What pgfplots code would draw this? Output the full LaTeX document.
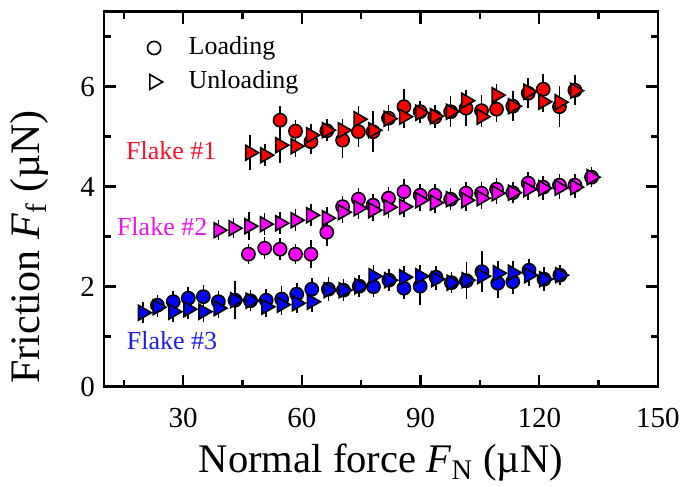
\documentclass[border=0pt]{standalone}
\usepackage{fontspec}
\setmainfont{Liberation Serif}
\usepackage{pgfplots}
\usepackage{pgfplotstable}
\pgfplotsset{compat=1.18}
\definecolor{fred}{RGB}{255,0,0}
\definecolor{fmag}{RGB}{255,0,255}
\definecolor{fblu}{RGB}{0,0,255}
\definecolor{tred}{RGB}{245,20,40}
\definecolor{tmag}{RGB}{235,20,235}
\definecolor{tblu}{RGB}{30,30,235}

% Flake #1 (red)
\pgfplotstableread{
x y e
54.5 5.33 0.17
58.4 5.11 0.12
62.3 4.90 0.15
66.3 5.12 0.11
70.3 4.93 0.25
74.3 5.10 0.20
78.0 5.10 0.30
81.9 5.37 0.15
85.8 5.60 0.25
89.9 5.50 0.11
93.6 5.39 0.11
97.6 5.50 0.20
101.5 5.57 0.25
105.4 5.52 0.20
109.2 5.55 0.15
113.3 5.61 0.20
117.2 5.87 0.20
121.0 5.95 0.20
125.1 5.60 0.30
129.0 5.93 0.20
}\redL
\pgfplotstableread{
x y e
46.9 4.68 0.25
50.7 4.63 0.11
54.5 4.83 0.25
58.4 4.81 0.11
62.3 5.03 0.11
66.3 5.13 0.11
70.3 5.13 0.11
74.3 5.35 0.15
78.0 5.13 0.11
81.9 5.36 0.11
85.8 5.40 0.13
89.9 5.48 0.11
93.6 5.41 0.11
97.6 5.50 0.11
101.5 5.72 0.11
105.4 5.40 0.11
109.2 5.83 0.12
113.3 5.61 0.11
117.2 5.90 0.11
121.0 5.70 0.11
125.1 5.69 0.11
129.0 5.92 0.11
}\redU

% Flake #2 (magenta)
\pgfplotstableread{
x y e
46.5 2.65 0.10
50.6 2.77 0.11
54.5 2.75 0.11
58.4 2.65 0.10
62.3 2.65 0.18
66.3 3.09 0.17
70.3 3.60 0.11
74.3 3.75 0.12
78.0 3.63 0.11
81.9 3.77 0.11
85.8 3.90 0.15
89.9 3.83 0.11
93.6 3.83 0.11
97.6 3.75 0.11
101.5 3.87 0.11
105.4 3.87 0.11
109.2 3.95 0.11
113.3 3.88 0.11
117.2 4.07 0.11
121.0 3.99 0.12
125.1 4.03 0.12
129.0 4.03 0.12
133.2 4.19 0.10
}\magL
\pgfplotstableread{
x y e
38.9 3.13 0.10
42.7 3.17 0.10
46.7 3.21 0.17
50.6 3.25 0.11
54.5 3.27 0.11
58.4 3.33 0.11
62.3 3.43 0.11
66.3 3.37 0.11
70.3 3.49 0.11
74.3 3.57 0.11
78.0 3.53 0.11
81.9 3.59 0.11
85.8 3.60 0.11
89.9 3.73 0.11
93.6 3.68 0.11
97.6 3.75 0.11
101.5 3.73 0.11
105.4 3.77 0.11
109.2 3.87 0.11
113.3 3.88 0.11
117.2 3.95 0.11
121.0 3.97 0.13
125.1 3.98 0.13
129.0 3.99 0.12
133.2 4.19 0.10
}\magU

% Flake #3 (blue)
\pgfplotstableread{
x y e
23.5 1.63 0.10
27.5 1.70 0.10
31.3 1.77 0.11
35.1 1.80 0.12
38.9 1.70 0.11
43.1 1.73 0.27
47.0 1.72 0.11
51.0 1.73 0.11
54.9 1.75 0.15
58.7 1.85 0.11
62.5 1.95 0.11
66.7 1.95 0.13
70.5 1.93 0.11
74.5 2.01 0.11
78.1 2.00 0.11
82.0 2.13 0.12
85.8 1.97 0.12
89.9 2.01 0.28
93.9 2.19 0.12
97.8 2.08 0.11
101.6 2.12 0.27
105.5 2.30 0.30
109.5 2.07 0.20
113.3 2.10 0.15
117.4 2.33 0.11
121.2 2.15 0.13
125.2 2.23 0.10
}\bluL
\pgfplotstableread{
x y e
19.8 1.48 0.10
23.5 1.59 0.10
27.5 1.50 0.10
31.3 1.55 0.10
35.1 1.50 0.11
38.9 1.57 0.10
43.1 1.73 0.11
47.0 1.72 0.10
51.0 1.60 0.10
54.9 1.64 0.11
58.7 1.67 0.10
62.5 1.70 0.10
66.7 1.93 0.11
70.5 1.93 0.10
74.5 2.01 0.12
78.1 2.21 0.12
82.0 2.13 0.11
85.8 2.19 0.12
89.9 2.21 0.12
93.9 2.15 0.12
97.8 2.08 0.11
101.6 2.13 0.11
105.5 2.21 0.12
109.5 2.27 0.13
113.3 2.28 0.12
117.4 2.23 0.11
121.2 2.15 0.11
125.2 2.23 0.10
}\bluU

\pgfplotsset{
  lo/.style={only marks, mark=*, mark size=3.3pt, draw=black, fill=#1,
    line width=0.8pt, forget plot},
  un/.style={only marks, mark=triangle*, mark size=4.3pt, draw=black, fill=#1,
    line width=0.8pt, mark options={rotate=-90}, forget plot},
  eb/.style={draw=none, no markers, forget plot,
    error bars/.cd, y dir=both, y explicit,
    error bar style={draw=black, line width=0.8pt},
    error mark options={draw=black, mark size=2.6pt, line width=0.8pt}},
}

\begin{document}
\begin{tikzpicture}
\begin{axis}[
  name=ax,
  scale only axis,
  width=277pt, height=187.5pt,
  xmin=10, xmax=150, ymin=0, ymax=7.5,
  xtick={30,60,90,120,150}, minor xtick={15,45,75,105,135},
  ytick={0,2,4,6}, minor ytick={1,3,5,7},
  tick align=inside,
  major tick length=6pt, minor tick length=3.5pt,
  every tick/.style={black, line width=1.2pt},
  axis line style={line width=1.2pt},
  /pgf/number format/assume math mode=true,
  tick label style={font=\fontsize{14.5}{14.5}\selectfont},
  xticklabel style={yshift=-7pt},
  yticklabel style={xshift=-1pt},
  xlabel={Normal force \textit{F}\textsubscript{N} (µN)},
  ylabel={Friction \textit{F}\textsubscript{f} (µN)},
  xlabel style={font=\fontsize{20.3}{20.3}\selectfont,
    at={(axis description cs:0.5,-0.203)}, anchor=center},
  ylabel style={font=\fontsize{21}{21}\selectfont,
    at={(axis description cs:-0.134,0.373)}, anchor=center},
  legend style={at={(axis description cs:0.067,0.955)}, anchor=north west,
    draw=none, fill=none, font=\fontsize{13}{13}\selectfont,
    nodes={inner sep=1pt, text height=10pt, text depth=3pt}, row sep=2pt,
    /tikz/every odd column/.append style={column sep=12pt}},
  legend cell align=left,
]
\addlegendimage{only marks, mark=o, mark size=3.3pt, mark options={black, line width=0.8pt}}
\addlegendentry{Loading}
\addlegendimage{only marks, mark=triangle, mark size=4.3pt, mark options={black, line width=0.8pt, rotate=-90}}
\addlegendentry{Unloading}

\addplot[lo=fred] table[x=x,y=y] {\redL};
\addplot[un=fred] table[x=x,y=y] {\redU};
\addplot[eb] table[x=x,y=y,y error=e] {\redL};
\addplot[eb] table[x=x,y=y,y error=e] {\redU};

\addplot[lo=fmag] table[x=x,y=y] {\magL};
\addplot[un=fmag] table[x=x,y=y] {\magU};
\addplot[eb] table[x=x,y=y,y error=e] {\magL};
\addplot[eb] table[x=x,y=y,y error=e] {\magU};

\addplot[lo=fblu] table[x=x,y=y] {\bluL};
\addplot[un=fblu] table[x=x,y=y] {\bluU};
\addplot[eb] table[x=x,y=y,y error=e] {\bluL};
\addplot[eb] table[x=x,y=y,y error=e] {\bluU};

\node[tred, font=\fontsize{13}{13}\selectfont] at (axis cs:27,4.73) {Flake \#1};
\node[tmag, font=\fontsize{13}{13}\selectfont] at (axis cs:24.7,3.2) {Flake \#2};
\node[tblu, font=\fontsize{13}{13}\selectfont] at (axis cs:27.2,0.93) {Flake \#3};
\end{axis}
\pgfresetboundingbox
\path[use as bounding box] ([xshift=-52pt,yshift=-49.7pt]ax.south west)
  rectangle ([xshift=14.5pt,yshift=5.85pt]ax.north east);
\end{tikzpicture}
\end{document}
